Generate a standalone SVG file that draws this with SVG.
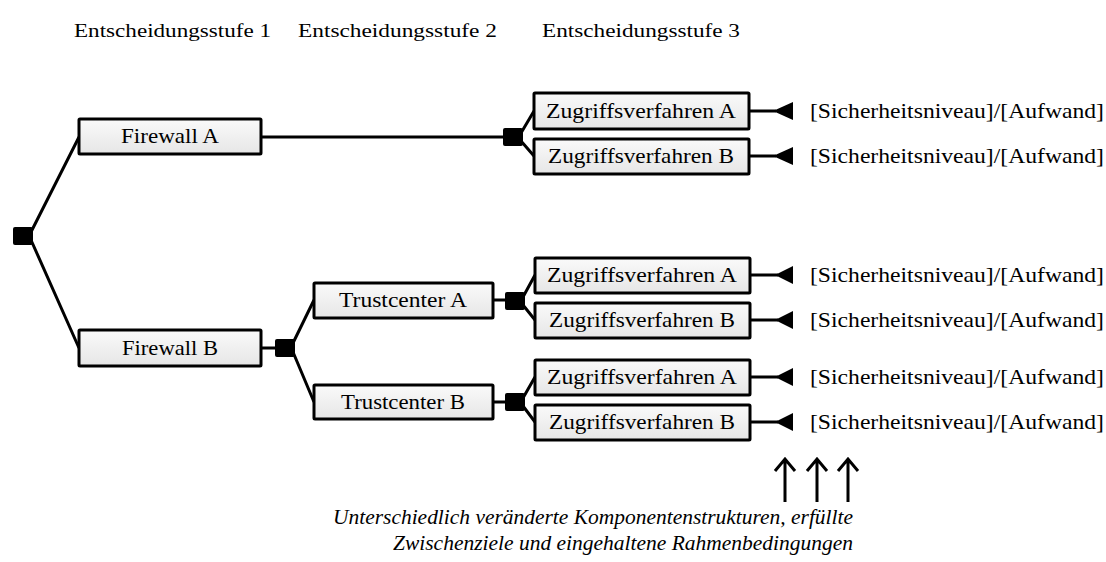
<svg xmlns="http://www.w3.org/2000/svg" width="1106" height="562" viewBox="0 0 1106 562">
<defs>
<linearGradient id="g" x1="0" y1="0" x2="0" y2="1"><stop offset="0" stop-color="#fafafa"/><stop offset="1" stop-color="#e6e6e6"/></linearGradient>
</defs>
<style>
.box{fill:url(#g);stroke:#000;stroke-width:3}
.t{font-family:"Liberation Serif","Times New Roman",serif;font-size:21px;fill:#000}
.c{text-anchor:middle}
.h{font-family:"Liberation Serif","Times New Roman",serif;font-size:19px;fill:#000}
.i{font-family:"Liberation Serif","Times New Roman",serif;font-size:20px;font-style:italic;fill:#000}
.ln{stroke:#000;stroke-width:3;fill:none}
.ar{stroke:#000;stroke-width:3;fill:none}
.sq{fill:#000}
.tri{fill:#000}
</style>
<g id="headers">
<text class="h" x="74" y="37" textLength="197" lengthAdjust="spacingAndGlyphs">Entscheidungsstufe 1</text>
<text class="h" x="298" y="37" textLength="199" lengthAdjust="spacingAndGlyphs">Entscheidungsstufe 2</text>
<text class="h" x="542" y="37" textLength="198" lengthAdjust="spacingAndGlyphs">Entscheidungsstufe 3</text>
</g>
<g id="connectors">
<path class="ln" d="M31,232 L79,137 M31,240 L79,348"/>
<path class="ln" d="M261,137 L505,137 M521,133 L534,111 M521,141 L534,156"/>
<path class="ln" d="M261,348 L277,348 M293,343 L314,300 M293,352 L314,402"/>
<path class="ln" d="M493,300 L507,300 M523,297 L535,275 M523,305 L535,320"/>
<path class="ln" d="M493,402 L507,402 M523,398 L535,377 M523,406 L535,422"/>
<path class="ln" d="M749,111 L776,111 M750,275 L778,275 M750,320 L778,320 M750,377 L778,377 M750,422 L778,422 M749,156 L776,156"/>
<path class="tri" d="M773,111 L793,102 L793,120 Z"/>
<path class="tri" d="M773,156 L793,147 L793,165 Z"/>
<path class="tri" d="M775,275 L793,266 L793,284 Z"/>
<path class="tri" d="M775,320 L793,311 L793,329 Z"/>
<path class="tri" d="M775,377 L793,368 L793,386 Z"/>
<path class="tri" d="M775,422 L793,413 L793,431 Z"/>
<path class="ar" d="M785,502 L785,460 M775,471 L785,459 L795,471"/>
<path class="ar" d="M817,502 L817,460 M807,471 L817,459 L827,471"/>
<path class="ar" d="M848,502 L848,460 M838,471 L848,459 L858,471"/>
</g>
<g id="root"><rect class="sq" x="13" y="227" width="20" height="18" rx="2"/></g>
<g id="d2a"><rect class="sq" x="503" y="128" width="20" height="18" rx="2"/></g>
<g id="d2b"><rect class="sq" x="275" y="339" width="20" height="18" rx="2"/></g>
<g id="d3a"><rect class="sq" x="505" y="292" width="20" height="18" rx="2"/></g>
<g id="d3b"><rect class="sq" x="505" y="393" width="20" height="18" rx="2"/></g>
<g id="firewallA"><rect class="box" x="79" y="119" width="182" height="35" rx="1"/><text class="t c" x="170" y="143" textLength="98" lengthAdjust="spacingAndGlyphs">Firewall A</text></g>
<g id="firewallB"><rect class="box" x="79" y="330" width="182" height="36" rx="1"/><text class="t c" x="170" y="355" textLength="96" lengthAdjust="spacingAndGlyphs">Firewall B</text></g>
<g id="trustA"><rect class="box" x="314" y="283" width="179" height="35" rx="1"/><text class="t c" x="403" y="307" textLength="128" lengthAdjust="spacingAndGlyphs">Trustcenter A</text></g>
<g id="trustB"><rect class="box" x="314" y="385" width="179" height="34" rx="1"/><text class="t c" x="403" y="409" textLength="124" lengthAdjust="spacingAndGlyphs">Trustcenter B</text></g>
<g id="z1"><rect class="box" x="534" y="93" width="215" height="36" rx="1"/><text class="t c" x="641" y="118" textLength="190" lengthAdjust="spacingAndGlyphs">Zugriffsverfahren A</text></g>
<g id="z2"><rect class="box" x="534" y="139" width="215" height="35" rx="1"/><text class="t c" x="641" y="163" textLength="186" lengthAdjust="spacingAndGlyphs">Zugriffsverfahren B</text></g>
<g id="z3"><rect class="box" x="535" y="258" width="215" height="35" rx="1"/><text class="t c" x="642" y="282" textLength="190" lengthAdjust="spacingAndGlyphs">Zugriffsverfahren A</text></g>
<g id="z4"><rect class="box" x="535" y="303" width="215" height="35" rx="1"/><text class="t c" x="642" y="327" textLength="186" lengthAdjust="spacingAndGlyphs">Zugriffsverfahren B</text></g>
<g id="z5"><rect class="box" x="535" y="360" width="215" height="35" rx="1"/><text class="t c" x="642" y="384" textLength="190" lengthAdjust="spacingAndGlyphs">Zugriffsverfahren A</text></g>
<g id="z6"><rect class="box" x="535" y="405" width="215" height="35" rx="1"/><text class="t c" x="642" y="429" textLength="186" lengthAdjust="spacingAndGlyphs">Zugriffsverfahren B</text></g>
<g id="outcomes">
<text class="t" x="810" y="118" textLength="294" lengthAdjust="spacingAndGlyphs">[Sicherheitsniveau]/[Aufwand]</text>
<text class="t" x="810" y="163" textLength="294" lengthAdjust="spacingAndGlyphs">[Sicherheitsniveau]/[Aufwand]</text>
<text class="t" x="810" y="282" textLength="294" lengthAdjust="spacingAndGlyphs">[Sicherheitsniveau]/[Aufwand]</text>
<text class="t" x="810" y="327" textLength="294" lengthAdjust="spacingAndGlyphs">[Sicherheitsniveau]/[Aufwand]</text>
<text class="t" x="810" y="384" textLength="294" lengthAdjust="spacingAndGlyphs">[Sicherheitsniveau]/[Aufwand]</text>
<text class="t" x="810" y="429" textLength="294" lengthAdjust="spacingAndGlyphs">[Sicherheitsniveau]/[Aufwand]</text>
</g>
<g id="note">
<text class="i" x="333" y="524" textLength="520" lengthAdjust="spacingAndGlyphs">Unterschiedlich veränderte Komponentenstrukturen, erfüllte</text>
<text class="i" x="393" y="550" textLength="460" lengthAdjust="spacingAndGlyphs">Zwischenziele und eingehaltene Rahmenbedingungen</text>
</g>
</svg>
